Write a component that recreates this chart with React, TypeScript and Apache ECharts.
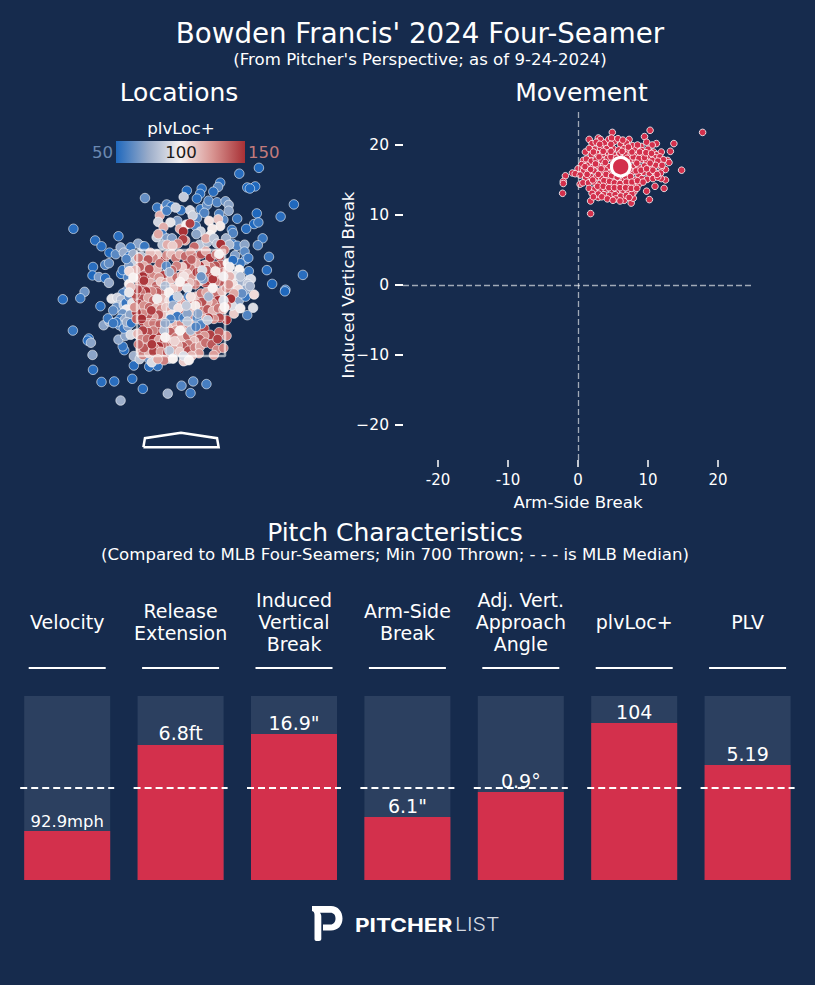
import React, { useEffect, useRef } from "react";
import * as echarts from "echarts";

const BG = "#162b4d";
const RED = "#d3304c";
const FONT = "DejaVu Sans";

const metricLabels = ["Velocity", "Release\nExtension", "Induced\nVertical\nBreak", "Arm-Side\nBreak", "Adj. Vert.\nApproach\nAngle", "plvLoc+", "PLV"];
const metricPercentiles = [26.6, 73.4, 79.3, 34.2, 47.8, 85.3, 62.5];
const metricValueLabels = ["92.9mph", "6.8ft", '16.9"', '6.1"', "0.9°", "104", "5.19"];
const mlbMedian = 50;

const movementMean = [6.1, 16.9];
const movementTicks = [-20, -10, 0, 10, 20];

const strikeZoneOutline = [[-0.83, 1.5], [0.83, 1.5], [0.83, 3.5], [-0.83, 3.5], [-0.83, 1.5]];
const strikeZoneGrid = [[-0.277, 1.5], [-0.277, 3.5], ["-", "-"], [0.277, 1.5], [0.277, 3.5], ["-", "-"], [-0.83, 2.17], [0.83, 2.17], ["-", "-"], [-0.83, 2.83], [0.83, 2.83]];
const homePlate = [[-0.71, -0.22], [0.71, -0.22], [0.68, -0.05], [0, 0.05], [-0.68, -0.05], [-0.71, -0.22]];

const colorStops = ["#1f68bd", "#9aacc9", "#f7f1f0", "#d89491", "#a83035"];

// horizontal ft, height ft, plvLoc+
const locationsOuter = [
[1.47,5.05,50],[1.1,4.94,52],[0.74,4.77,52],[1.4,4.7,50],[1.25,4.68,50],[1.3,4.66,50],[0.7,4.69,62],[0.39,4.66,52],[0.11,4.62,50],[0.36,4.56,52],[0.3,4.47,52],[0.61,4.6,52],[-0.68,4.48,64],[2.13,4.36,50],[1.88,4.13,52],[1.43,4.19,50],[1.38,3.99,50],[1.46,4.02,55],[1.23,3.9,52],[1.54,3.72,55],[1.45,3.59,60],[-2.03,3.9,52],[-1.62,3.68,52],[-1.5,3.57,52],[-1.18,3.76,52],[-1.35,3.45,50],[-1.23,3.42,62],[-1.14,3.55,72],[1.66,3.37,55],[1.62,3.12,52],[2.3,3.03,52],[1.72,2.86,50],[1.97,2.75,54],[1.96,2.72,50],[-1.66,3.18,52],[-1.67,3.02,50],[-1.43,3.22,60],[-1.36,3.25,64],[-1.55,2.99,68],[-1.43,2.97,52],[-1.36,2.88,74],[-1.82,2.71,66],[-1.9,2.59,55],[-2.23,2.57,52],[-1.52,2.44,52],[-1.13,3.05,52],[1.36,2.41,92],[1.25,2.27,60],[1.09,2.54,72],[1.22,2.62,55],[1.29,2.94,82],[1.28,3.1,55],[1.14,2.9,76],[-2.04,1.98,55],[-1.74,1.83,50],[-1.76,1.79,52],[-1.7,1.75,72],[-1.67,1.52,72],[-1.66,1.24,52],[-1.5,1.01,52],[-1.26,1.02,52],[-0.92,1.07,52],[-0.72,0.88,52],[-1.14,0.66,76],[-0.25,0.79,76],[0.01,0.94,60],[0.23,1.02,60],[0.18,0.8,56],[0.48,0.97,58],[-0.89,1.32,52],[-0.6,1.3,52],[-0.44,1.31,54],[-0.89,1.5,76],[-1.07,1.61,52],[-1.1,1.68,54],[-1.18,1.81,72],[-1.05,1.88,72],[-1.46,2.08,72],[-1.35,2.15,76],[-1.38,2.21,55],
// top shell
[-0.45,4.3,55],[-0.3,4.3,110],[-0.27,4.36,60],[-0.18,4.32,52],[-0.4,4.15,118],[-0.27,4.24,58],[0.05,4.5,86],[0.17,4.25,90],[0,4.25,54],[-0.07,4.05,70],[-0.2,4.02,95],[0.37,4.27,55],[0.49,4.35,64],[0.52,4.43,60],[0.44,4.2,60],[0.3,4.1,62],[0.68,4.4,60],[0.84,4.42,66],[0.9,4.35,72],[0.9,4.24,72],[1.06,4.09,55],[0.8,4.07,62],[0.72,4.18,60],[0.53,4.05,104],[0.7,4.08,112],[0.74,3.95,102],[0.59,3.9,102],[0.96,3.88,55],[0.98,3.82,60],[0.22,4.15,88],[-0.1,4.3,88],[-0.43,4.03,90],[-0.33,3.93,118],[-0.02,3.9,118],[0.1,3.98,100],[0.28,3.95,60],[0.37,3.85,88],[0.55,3.78,100],[0.85,3.72,76],[0.97,3.62,60],[1.06,3.58,60],[1.2,3.6,72],[0.91,3.6,80],[-0.36,3.8,56],[-0.46,3.74,88],[-0.43,3.8,120],[-0.27,3.72,70],[-0.35,3.6,84],[-0.17,3.72,70],[0.08,3.68,120],[0.29,3.8,72],[0.35,3.6,84],[0.5,3.65,80],[0.47,3.72,120],[0.62,3.72,84],[0.68,3.62,84],[-0.73,3.57,76],[-0.81,3.62,72],[-0.69,3.57,55],[-0.95,3.55,55],[-1.02,3.42,55],[-1.08,3.45,74],[-0.98,3.38,52],[-0.9,3.42,76],[-0.85,3.3,88],[-0.75,3.38,84],
// right shell
[1.02,3.4,70],[1.2,3.47,62],[1.22,3.32,60],[1.27,3.35,56],[1.12,3.25,55],[1.1,3.13,100],[1.02,3.02,95],[1.12,3.0,84],[1.32,2.95,92],[1.26,2.86,86],[1.21,2.75,74],[0.98,2.86,104],[1.08,2.76,106],[1.15,2.68,64],[1.38,2.66,106],[1.0,2.68,120],[1.3,2.82,78],[1.0,2.3,110],[0.96,2.45,92],[1.12,2.4,98],
// left shell
[-1.1,3.12,55],[-0.98,3.2,70],[-1.03,3.33,60],[-0.95,3.1,98],[-1.0,2.98,60],[-0.98,2.86,100],[-0.96,2.78,70],[-1.04,2.72,65],[-1.1,2.68,60],[-1.31,2.58,95],[-1.2,2.6,90],[-1.13,2.56,82],[-1.18,2.45,78],[-1.22,2.42,65],[-1.28,2.36,62],[-1.08,2.46,84],[-1.04,2.5,55],[-0.98,2.62,64],[-0.92,2.5,95],[-1.03,2.38,98],[-1.1,2.3,66],[-1.15,2.2,55],[-1.1,2.14,52],[-1.05,2.2,74],[-1.16,2.08,62],[-1.08,2.02,56],[-1.0,2.06,70],[-0.96,2.28,72],[-1.02,2.14,76],[-0.94,2.12,54],[-0.85,1.92,84],[-0.95,1.9,92],[-1.22,2.14,54],[-1.28,2.12,55],[-0.78,1.44,84],[-0.6,1.44,66],[-0.55,1.38,92],[-0.22,1.45,88],[0.1,1.42,96],[-0.44,1.52,70],
];

const locationsZone = [
[-0.69,3.09,148],[-0.33,3.3,146],[0.17,4.0,146],[0.04,3.85,150],[0.04,3.7,146],[0.75,3.61,150],[0.94,2.58,150],[0.86,2.18,150],[0.86,1.88,128],[-0.06,3.62,128],[-0.26,3.6,118],[-0.16,3.58,110],[0.25,3.56,136],[-0.45,3.42,110],[-0.52,3.35,128],[-0.58,3.45,114],[-0.8,3.35,132],[-0.62,3.32,140],[-0.7,3.2,118],[-0.78,3.18,138],[-0.61,3.02,134],[-0.72,3.0,150],[-0.52,3.04,128],[-0.45,3.15,116],[-0.4,3.25,134],[-0.27,3.4,128],[-0.18,3.42,114],[-0.1,3.35,132],[-0.02,3.42,118],[0.08,3.38,136],[0.18,3.45,124],[0.28,3.36,134],[0.38,3.42,142],[0.47,3.48,118],[0.55,3.35,148],[0.66,3.42,130],[0.73,3.38,146],[0.82,3.5,130],[0.75,3.22,138],[0.65,3.2,142],[0.56,3.18,132],[0.45,3.22,114],[0.35,3.2,150],[0.28,3.25,118],[0.18,3.15,132],[0.1,3.22,144],[0.02,3.18,110],[-0.08,3.2,130],[-0.17,3.12,136],[-0.25,3.1,114],[-0.33,3.02,146],[-0.42,2.98,126],[-0.78,2.86,134],[-0.68,2.85,142],[-0.58,2.88,118],[-0.47,2.82,138],[-0.38,2.9,110],[-0.28,2.88,122],[-0.18,2.95,114],[-0.08,2.98,134],[0.02,3.02,118],[0.12,3.05,112],[0.22,2.98,124],[0.3,3.08,146],[0.42,3.05,134],[0.5,3.0,144],[0.6,3.05,146],[0.7,3.05,120],[0.8,3.08,132],[0.88,3.12,114],[0.75,2.9,140],[0.65,2.9,128],[0.56,2.85,116],[0.46,2.88,148],[0.36,2.92,110],[0.27,2.85,132],[0.16,2.88,114],[0.05,2.85,136],[-0.05,2.8,124],[-0.15,2.78,110],[-0.25,2.72,120],[-0.35,2.68,134],[-0.45,2.7,140],[-0.55,2.72,128],[-0.66,2.72,148],[-0.76,2.7,134],[-0.82,2.6,150],[-0.72,2.58,142],[-0.62,2.6,120],[-0.52,2.55,138],[-0.42,2.52,118],[-0.33,2.58,114],[-0.22,2.55,106],[-0.8,2.48,146],[-0.7,2.45,126],[-0.6,2.42,136],[-0.48,2.4,114],[-0.38,2.38,128],[-0.28,2.42,112],[-0.18,2.38,120],[-0.08,2.45,112],[0.0,2.55,118],[0.08,2.48,126],[0.18,2.55,128],[0.28,2.62,114],[0.38,2.68,132],[0.48,2.7,120],[0.58,2.66,146],[0.68,2.7,134],[0.78,2.72,114],[0.86,2.78,128],[0.8,2.55,140],[0.7,2.55,150],[0.6,2.5,128],[0.5,2.52,114],[0.4,2.52,142],[0.3,2.48,134],[0.2,2.4,118],[0.1,2.35,132],[0.0,2.28,138],[-0.1,2.26,124],[-0.22,2.22,136],[-0.32,2.25,112],[-0.42,2.28,142],[-0.52,2.24,120],[-0.62,2.28,140],[-0.72,2.3,128],[-0.84,2.32,150],[-0.84,2.2,138],[-0.72,2.15,148],[-0.62,2.12,124],[-0.52,2.12,132],[-0.4,2.1,138],[-0.3,2.08,118],[-0.2,2.1,110],[-0.1,2.12,116],[0.0,2.12,128],[0.1,2.18,142],[0.2,2.25,134],[0.3,2.32,120],[0.4,2.35,128],[0.5,2.38,140],[0.6,2.35,116],[0.7,2.4,132],[0.8,2.38,118],[0.73,2.22,144],[0.62,2.2,126],[0.52,2.22,148],[0.42,2.2,118],[0.32,2.15,130],[0.22,2.1,114],[0.12,2.02,134],[0.02,1.98,110],[-0.1,1.98,124],[-0.2,1.95,138],[-0.32,1.95,130],[-0.42,1.95,146],[-0.52,1.98,130],[-0.62,1.95,142],[-0.72,1.98,146],[-0.82,1.92,116],[-0.75,1.82,128],[-0.64,1.82,134],[-0.52,1.82,150],[-0.42,1.8,120],[-0.32,1.78,142],[-0.22,1.8,114],[-0.1,1.85,130],[0.0,1.82,112],[0.12,1.88,136],[0.24,1.9,120],[0.34,1.98,134],[0.44,2.02,144],[0.72,1.95,138],[0.55,1.9,146],[0.44,1.88,124],[0.35,1.82,140],[0.25,1.78,114],[0.14,1.72,132],[0.04,1.68,140],[-0.06,1.7,118],[-0.18,1.68,130],[-0.3,1.68,134],[-0.42,1.68,150],[-0.5,1.65,126],[-0.64,1.66,128],[-0.76,1.62,120],[-0.72,1.52,130],[-0.6,1.55,116],[-0.52,1.58,146],[-0.38,1.58,122],[-0.26,1.56,140],[-0.14,1.62,120],[-0.02,1.58,110],[0.08,1.52,128],[0.14,1.6,142],[0.26,1.66,130],[0.36,1.68,120],[0.46,1.75,134],[0.58,1.72,140],[0.68,1.62,128],[0.8,1.65,130],[0.69,1.82,146],[0.62,1.52,122],[0.34,1.55,124],[0.2,1.5,116],[0.05,1.4,110],[-0.32,1.42,130],[-0.44,1.44,120],[-0.7,1.65,140],[-0.86,2.66,142],[-0.85,2.98,130],[-0.86,3.12,116],[-0.88,2.42,126],[0.92,3.0,116],[0.9,2.85,126],[0.86,2.45,134],[-0.82,2.76,146],[-0.74,2.2,150],[-0.8,1.72,136],[-0.56,2.36,146],[-0.7,2.92,148],[-0.6,3.14,142],[0.6,2.95,148],[0.48,3.12,140],[0.2,3.32,138],[-0.55,1.72,148],
];

const locationsSprinkle = [
[0.88,3.25,102],[0.98,3.31,52],[0.92,3.18,98],[0.72,3.42,100],[0.65,3.1,102],[0.8,3.0,98],[0.4,3.12,92],[-0.98,3.1,106],[-0.9,2.98,100],[-0.95,2.8,112],[-0.98,2.7,96],[-0.28,3.2,62],[-0.22,3.08,76],[0.05,3.0,104],[-0.02,2.9,100],[0.42,2.95,70],[0.38,3.0,66],[0.12,2.78,95],[-0.3,2.82,80],[-0.23,2.7,100],[-0.14,2.57,52],[0.14,2.62,54],[0.27,2.45,102],[0.52,2.62,78],[0.18,2.62,104],[-0.06,2.62,88],[-0.15,2.45,76],[-0.05,2.4,104],[-0.18,2.28,104],[-0.07,2.25,56],[0.05,2.22,58],[0.12,2.3,72],[-0.2,2.2,60],[0.1,2.45,86],[0.3,2.22,62],[0.38,2.1,60],[0.18,1.98,78],[-0.32,1.98,82],[-0.3,2.12,74],[0.32,2.3,72],[0.8,2.55,92],[0.82,2.42,100],[0.6,2.78,100],[0.5,2.18,86],[-0.3,1.85,100],[-0.12,1.78,108],[0.05,1.5,92],[0.15,1.42,100],[-0.22,1.6,84],[-0.15,1.45,100],[0.28,2.05,60],[-0.45,2.58,98],[-0.02,1.98,100],[0.12,2.15,84],
];

const locationData = [...locationsOuter, ...locationsZone, ...locationsSprinkle];

// arm-side break, induced vertical break
const movementData = [
[17.8,21.8],[14.8,16.4],[13.7,20.2],[13.2,19.1],[10.3,22.1],[4.9,21.8],[1.6,20.8],[2.9,21],[3.2,20.8],[1.05,19],[0.76,17.8],[-0.8,16],[-1.8,15.6],[-2.1,14.8],[-2.1,14.5],[-2.2,13.1],[0.3,14.4],[1.8,12],[1.8,10.2],[2.9,12.5],[6.6,12.1],[7.6,11.7],[7.9,12.4],[10.2,12.2],[9.8,13.4],[11,14.1],[12.3,13.8],[12.5,15],[11.9,15.2],[12.5,16.5],[12.8,17.8],[13,17.5],[11.9,19],[11.2,20.2],[9.5,21.2],[9.8,20.4],[7.3,20.8],
[2.0,20.2],[3.8,20.3],[4.4,20.8],[5.2,20.5],[6.1,20.1],[6.9,20.3],[7.8,19.9],[9.0,19.8],[10.6,20.0],[4.8,21.0],[5.7,20.9],[6.4,20.7],[2.4,19.4],[3.2,19.6],[4.1,19.5],[5.0,19.5],[5.8,19.3],[6.6,19.5],[7.2,19.2],[8.2,19.3],[9.1,19.2],[10.0,19.4],[10.8,19.0],[11.2,18.6],[1.9,18.6],[2.7,18.8],[3.5,18.7],[4.3,18.9],[5.1,18.6],[6.0,18.8],[6.8,18.6],[7.6,18.7],[8.4,18.5],[9.3,18.7],[10.2,18.3],[11.0,18.2],[11.7,18.3],[12.2,17.9],[1.2,18.0],[1.9,17.7],[2.6,17.9],[3.4,17.8],[4.2,18.1],[5.0,17.8],[7.5,17.9],[8.2,17.7],[9.0,17.9],[9.8,17.6],[10.6,17.8],[11.4,17.7],[0.5,17.2],[1.3,17.1],[2.1,16.8],[2.9,17.0],[3.7,17.1],[4.4,16.9],[8.0,17.0],[8.7,16.8],[9.5,17.0],[10.4,16.9],[11.1,17.1],[11.9,16.8],[0.0,16.6],[0.8,16.3],[1.5,16.1],[2.3,16.3],[3.2,16.1],[3.9,16.4],[4.6,16.0],[5.4,15.8],[6.2,15.6],[7.1,15.9],[7.8,16.2],[8.6,15.8],[9.4,16.1],[10.2,15.9],[11.0,16.1],[11.8,16.0],[-0.4,15.9],[0.3,15.7],[1.1,15.3],[1.8,15.5],[2.6,15.4],[3.4,15.3],[4.2,15.2],[5.0,15.1],[5.8,14.9],[6.6,15.0],[7.4,15.1],[8.2,15.0],[9.1,15.2],[9.9,15.1],[10.7,15.2],[11.4,15.4],[0.7,14.6],[1.5,14.6],[2.3,14.7],[3.1,14.5],[3.9,14.4],[4.7,14.3],[5.5,14.2],[6.3,14.3],[7.1,14.3],[7.9,14.2],[8.7,14.4],[1.6,13.8],[2.4,13.7],[3.2,13.6],[4.0,13.7],[4.8,13.4],[5.6,13.5],[6.4,13.5],[7.2,13.4],[8.0,13.3],[2.0,13.1],[2.9,13.0],[3.7,12.9],[4.5,12.8],[5.3,12.9],[6.1,12.7],[6.9,12.8],[7.7,13.0],[3.4,12.6],[4.2,12.3],[5.4,12.3],[6.0,12.0],[1.6,19.5],[2.6,20.4],[3.0,18.3],[3.9,17.5],[4.7,18.3],[5.5,18.1],[6.3,18.0],[7.0,18.1],[7.9,18.3],[8.7,18.1],[9.5,18.2],[10.3,17.4],[1.0,16.9],[1.8,16.5],[2.5,17.3],[3.3,16.6],[4.0,15.8],[4.8,15.6],[5.6,15.4],[6.8,15.5],[7.5,15.5],[8.3,16.3],[9.0,16.4],[9.8,16.6],[10.7,16.4],[11.3,15.8],[12.0,17.1],[1.3,15.8],[2.1,15.0],[2.9,15.8],[3.7,14.9],[4.5,14.8],[5.2,14.6],[6.0,14.5],[6.9,14.7],[7.7,14.7],[8.5,14.9],[9.3,14.7],[2.8,14.1],[3.6,14.1],[4.4,13.9],[5.2,13.9],[6.0,13.9],[6.8,13.9],[7.6,13.8],[8.4,13.8],[2.2,12.6],[7.3,12.5],[5.0,12.1],[5.0,16.4],[7.3,16.5],[8.4,17.4],[2.2,19.0],[3.6,19.1],[4.7,19.1],[6.3,19.1],[7.7,19.0],[8.8,19.0],[9.7,18.9],[10.5,18.8],[3.1,20.1],[4.7,20.1],[7.2,19.7],[8.5,20.0],
];

const categoryCenter = (i: number) => 10.5 + 113.4 * (i + 0.5);

const logoPath =
  "M0 0 L19 0 C26 0 30.5 5.5 30.5 12.5 C30.5 19.5 26 24.5 19 24.5 L11 24.5 L11 18.5 L18.5 18.5 C21.5 18.5 23.5 16 23.5 12.5 C23.5 9 21.5 6.8 18.5 6.8 L8 6.8 C9 8 9.3 9 9.3 10.5 L9.3 33 C9.3 34.3 8.3 35 7 35 L4.5 35 C3.2 35 2.5 34.3 2.5 33 L2.5 9 C2.5 6.5 1.8 5.5 0 5 Z";
echarts.graphic.registerShape("plLogoMark", echarts.graphic.extendPath(logoPath as any, {}) as any);

function App() {
  const ref = useRef<HTMLDivElement>(null);
  useEffect(() => {
    document.body.style.margin = "0";
    document.body.style.background = BG;
    const chart = echarts.init(ref.current!, null, { renderer: "svg" });
    const whiteText = (text: string, x: number, y: number, fontSize: number, extra: any = {}) => ({
      type: "text",
      x,
      y,
      silent: true,
      style: { text, fill: "#ffffff", font: `${fontSize}px "${FONT}"`, textAlign: "center", textVerticalAlign: "middle", ...extra },
    });
    chart.setOption({
      animation: false,
      backgroundColor: BG,
      textStyle: { fontFamily: FONT },
      grid: [
        { left: 22, top: 144, width: 318, height: 318 },
        { left: 403, top: 110, width: 350, height: 350 },
        { left: 10.5, top: 696, width: 793.8, height: 184 },
      ],
      xAxis: [
        { gridIndex: 0, type: "value", min: -3, max: 3, show: false },
        {
          gridIndex: 1, type: "value", min: -25, max: 25, splitLine: { show: false },
          axisLine: { show: false, onZero: false },
          axisTick: { show: true, length: 7, lineStyle: { color: "#fff", width: 1.5 }, customValues: movementTicks },
          axisLabel: { color: "#fff", fontSize: 15, margin: 12, fontFamily: FONT, customValues: movementTicks, formatter: (v: number) => String(v) },
          name: "Arm-Side Break", nameLocation: "middle", nameGap: 34, nameMoveOverlap: false,
          nameTextStyle: { color: "#fff", fontSize: 16.6, fontFamily: FONT },
        },
        {
          gridIndex: 2, type: "category", data: metricLabels, position: "top",
          axisLine: { show: false }, axisTick: { show: false },
          axisLabel: { color: "#fff", fontSize: 19, lineHeight: 22, margin: 74, verticalAlign: "middle", fontFamily: FONT, interval: 0 },
        },
      ],
      yAxis: [
        { gridIndex: 0, type: "value", min: -0.5, max: 5.5, show: false },
        {
          gridIndex: 1, type: "value", min: -25, max: 25, splitLine: { show: false },
          axisLine: { show: false, onZero: false },
          axisTick: { show: true, length: 8, lineStyle: { color: "#fff", width: 2 }, customValues: movementTicks },
          axisLabel: { color: "#fff", fontSize: 15.5, margin: 14, fontFamily: FONT, customValues: movementTicks, formatter: (v: number) => String(v).replace("-", "\u2212") },
          name: "Induced Vertical Break", nameLocation: "middle", nameGap: 46, nameRotate: 90, nameMoveOverlap: false,
          nameTextStyle: { color: "#fff", fontSize: 16.6, fontFamily: FONT },
        },
        { gridIndex: 2, type: "value", min: 0, max: 100, show: false },
      ],
      visualMap: [{
        show: false, type: "continuous", min: 50, max: 150, dimension: 2, seriesIndex: 0,
        inRange: { color: colorStops },
      }],
      series: [
        {
          type: "scatter", xAxisIndex: 0, yAxisIndex: 0, data: locationData, symbolSize: 9.5,
          itemStyle: { borderColor: "rgba(255,255,255,0.85)", borderWidth: 0.7, opacity: 1 }, z: 2,
        },
        {
          type: "line", xAxisIndex: 0, yAxisIndex: 0, data: strikeZoneOutline, symbol: "none", z: 3,
          lineStyle: { color: "rgba(255,255,255,0.6)", width: 2.5 },
        },
        {
          type: "line", xAxisIndex: 0, yAxisIndex: 0, data: strikeZoneGrid, symbol: "none", z: 3, connectNulls: false,
          lineStyle: { color: "rgba(255,255,255,0.3)", width: 1.5 },
        },
        {
          type: "line", xAxisIndex: 0, yAxisIndex: 0, data: homePlate, symbol: "none", z: 3,
          lineStyle: { color: "#fff", width: 2.5, join: "miter" },
        },
        {
          type: "scatter", xAxisIndex: 1, yAxisIndex: 1, data: movementData, symbolSize: 6.6, z: 3,
          itemStyle: { color: RED, borderColor: "rgba(255,255,255,0.8)", borderWidth: 1, opacity: 1 },
          markLine: {
            silent: true, symbol: "none", label: { show: false }, animation: false,
            lineStyle: { color: "rgba(255,255,255,0.6)", type: [6, 3], width: 1.3 },
            data: [{ xAxis: 0 }, { yAxis: 0 }],
          },
        },
        {
          type: "scatter", xAxisIndex: 1, yAxisIndex: 1, data: [movementMean], symbolSize: 18.5, z: 4,
          itemStyle: { color: RED, borderColor: "#fff", borderWidth: 3.2, opacity: 1 },
        },
        {
          type: "bar", xAxisIndex: 2, yAxisIndex: 2, barWidth: 86, z: 2,
          showBackground: true, backgroundStyle: { color: "#2c4060", opacity: 1 },
          itemStyle: { color: RED },
          data: metricPercentiles.map((v, i) => ({
            value: v,
            label: {
              show: true, position: "top", distance: 2, formatter: metricValueLabels[i],
              color: "#fff", fontFamily: FONT, fontSize: i === 0 ? 16.4 : 19,
            },
          })),
        },
        {
          type: "custom", xAxisIndex: 2, yAxisIndex: 2, z: 5, silent: true,
          data: metricLabels.map((_, i) => [i, mlbMedian]),
          renderItem: (_: any, api: any) => {
            const p = api.coord([api.value(0), api.value(1)]);
            return {
              type: "line",
              shape: { x1: p[0] - 47, y1: p[1], x2: p[0] + 47, y2: p[1] },
              style: { stroke: "#fff", lineWidth: 2, lineDash: [7, 4] },
            };
          },
        },
      ],
      graphic: [
        whiteText("Bowden Francis' 2024 Four-Seamer", 420, 33, 27.7),
        whiteText("(From Pitcher's Perspective; as of 9-24-2024)", 420, 59, 16.6),
        whiteText("Locations", 179, 92, 25),
        whiteText("Movement", 581.5, 92, 25),
        whiteText("plvLoc+", 181, 128, 16.7),
        {
          type: "rect", x: 116, y: 141, shape: { width: 129, height: 22 }, silent: true,
          style: {
            fill: new echarts.graphic.LinearGradient(0, 0, 1, 0, colorStops.map((color, i) => ({ offset: i / 4, color }))),
          },
        },
        whiteText("50", 113, 152, 16.6, { textAlign: "right", fill: "#6b88b0" }),
        whiteText("100", 181, 152, 16.6, { fill: "#1a1a1a" }),
        whiteText("150", 248, 152, 16.6, { textAlign: "left", fill: "#c27b7c" }),
        whiteText("Pitch Characteristics", 395, 532, 25),
        whiteText("(Compared to MLB Four-Seamers; Min 700 Thrown; - - - is MLB Median)", 395, 554, 16.6),
        ...metricLabels.map((_, i) => ({
          type: "line", silent: true,
          shape: { x1: categoryCenter(i) - 38.5, y1: 668, x2: categoryCenter(i) + 38.5, y2: 668 },
          style: { stroke: "#fff", lineWidth: 2 },
        })),
        { type: "plLogoMark", x: 312, y: 906, silent: true, style: { fill: "#fff" } },
        {
          type: "text", x: 355, y: 925, silent: true, scaleX: 1.22,
          style: { text: "PITCHER", fill: "#fff", font: 'bold 18.5px "Inter"', textAlign: "left", textVerticalAlign: "middle" },
        },
        {
          type: "text", x: 455, y: 925, silent: true, scaleX: 1.15,
          style: { text: "LIST", fill: "#d5d9e0", font: '300 18.5px "Inter"', textAlign: "left", textVerticalAlign: "middle" },
        },
      ],
    });
    return () => chart.dispose();
  }, []);
  return <div ref={ref} style={{ position: "absolute", left: 0, top: 0, width: 815, height: 985 }} />;
}

export default App;
